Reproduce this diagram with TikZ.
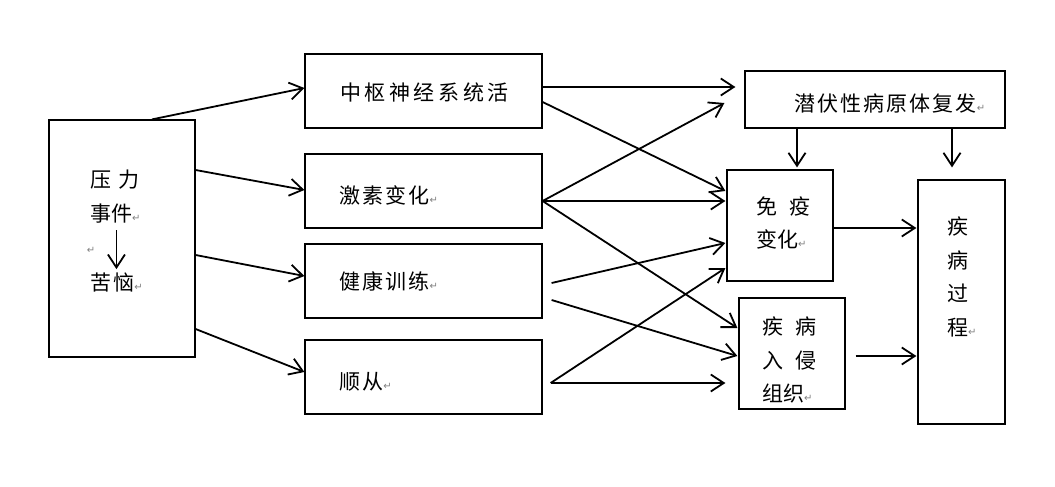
\documentclass[tikz,border=0pt]{standalone}
\usepackage{fontspec}
\setmainfont{Noto Sans CJK SC}
\newfontfamily\markfont{DejaVu Sans}
\usetikzlibrary{arrows.meta}
\newcommand{\retmark}{{\markfont\fontsize{10}{10}\selectfont\textcolor{gray}{↵}}}
\newcommand{\gap}{\hspace{12pt}}

\begin{document}
\begin{tikzpicture}[x=1pt,y=-1pt,
	box/.style={draw,line width=1.2pt,inner sep=0pt},
	txt/.style={inner sep=0pt,anchor=west,align=left,font=\fontsize{21}{33.5}\selectfont},
	sp/.style={font=\fontsize{21}{33.5}\selectfont\addfontfeature{LetterSpace=#1}},
	arr/.style={line width=1.8pt,-{Straight Barb[length=13pt,width=17pt]}}]

	\useasboundingbox (0,0) rectangle (1055,487);

	% boxes
	\node[box,minimum width=146pt,minimum height=237pt] (stressbox) at (122,238.5) {};
	\node[box,minimum width=237pt,minimum height=74pt] (cns) at (423.5,91) {};
	\node[box,minimum width=237pt,minimum height=74pt] (hormone) at (423.5,191) {};
	\node[box,minimum width=237pt,minimum height=74pt] (exercise) at (423.5,281) {};
	\node[box,minimum width=237pt,minimum height=74pt] (comply) at (423.5,377) {};
	\node[box,minimum width=260pt,minimum height=57pt] (latent) at (875,99.5) {};
	\node[box,minimum width=106pt,minimum height=111pt] (immune) at (780,225.5) {};
	\node[box,minimum width=106pt,minimum height=111pt] (invade) at (792,353.5) {};
	\node[box,minimum width=87pt,minimum height=244pt] (disease) at (961.5,302) {};

	% texts
	\node[txt] (stresstxt) at (90,196.5) {压\hspace{7pt}力\\事件\retmark};
	\node[inner sep=0pt] (blankmark) at (91,250) {\retmark};
	\node[txt,sp=10] (worry) at (90,282) {苦恼\retmark};
	\node[txt,sp=17] (cnstxt) at (340,92) {中枢神经系统活};
	\node[txt,sp=10] (hormonetxt) at (339,195) {激素变化\retmark};
	\node[txt,sp=10] (exercisetxt) at (339,281.5) {健康训练\retmark};
	\node[txt,sp=10] (complytxt) at (339,382) {顺从\retmark};
	\node[txt,sp=10] (latenttxt) at (794,104) {潜伏性病原体复发\retmark};
	\node[txt] (immunetxt) at (756,222.75) {免\gap 疫\\变化\retmark};
	\node[txt] (invadetxt) at (762,360) {疾\gap 病\\入\gap 侵\\组织\retmark};
	\node[txt] (diseasetxt) at (947,277) {疾\\病\\过\\程\retmark};

	% stress -> reactions
	\draw[arr,shorten <=7pt,shorten >=3pt] (stresstxt.south -| worry.north) -- (worry.north);
	\draw[arr] ([shift={(30,0)}]stressbox.north) -- ([shift={(0,-3)}]cns.west);
	\draw[arr] ([shift={(0,-68.5)}]stressbox.east) -- ([shift={(0,-1)}]hormone.west);
	\draw[arr] ([shift={(0,16.5)}]stressbox.east) -- ([shift={(0,-5)}]exercise.west);
	\draw[arr] ([shift={(0,90.5)}]stressbox.east) -- ([shift={(0,-5)}]comply.west);

	% reactions -> body
	\draw[arr] ([shift={(0,-4)}]cns.east) -- ([shift={(-9,-12.5)}]latent.west);
	\draw[arr] ([shift={(0,11)}]cns.east) -- ([shift={(-1,-34.5)}]immune.west);
	\draw[arr] ([shift={(0,10)}]hormone.east) -- ([shift={(-1,-24.5)}]immune.west);
	\draw[arr] ([shift={(0,10)}]hormone.east) -- ([shift={(-20,3.5)}]latent.west);
	\draw[arr] ([shift={(0,10)}]hormone.east) -- ([shift={(-1,-25.5)}]invade.west);
	\draw[arr] ([shift={(9,2)}]exercise.east) -- ([shift={(-1,17.5)}]immune.west);
	\draw[arr] ([shift={(9,19)}]exercise.east) -- ([shift={(-1,2.5)}]invade.west);
	\draw[arr] ([shift={(8,6)}]comply.east) -- ([shift={(-1,42.5)}]immune.west);
	\draw[arr] ([shift={(8,6)}]comply.east) -- ([shift={(-13,29.5)}]invade.west);

	% body -> disease
	\draw[arr] ([shift={(-78,0)}]latent.south) -- ([shift={(17,-2)}]immune.north);
	\draw[arr] ([shift={(77,0)}]latent.south) -- ([shift={(-9.5,-12)}]disease.north);
	\draw[arr] ([shift={(0,2.5)}]immune.east) -- ([shift={(-1,-74)}]disease.west);
	\draw[arr] ([shift={(10,2.5)}]invade.east) -- ([shift={(-1,54)}]disease.west);

\end{tikzpicture}
\end{document}
